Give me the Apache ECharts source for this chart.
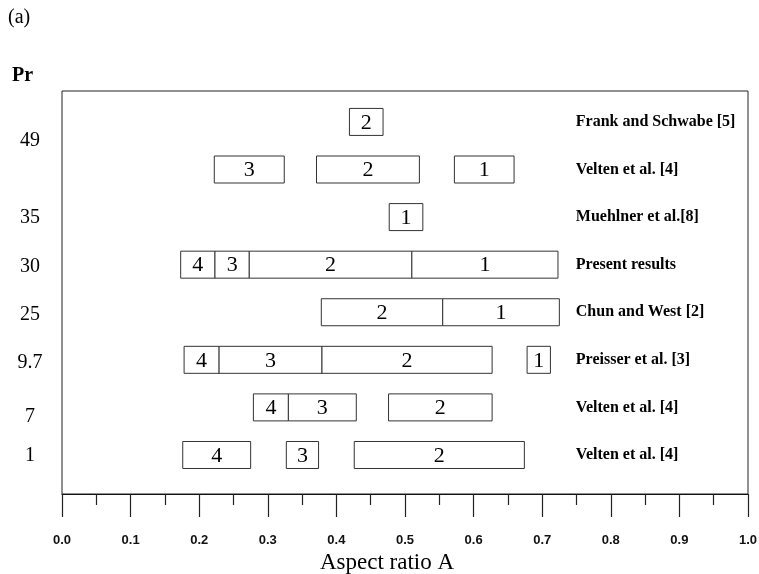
<!DOCTYPE html>
<html>
<head>
<meta charset="utf-8">
<script src="https://cdn.jsdelivr.net/npm/echarts@6/dist/echarts.min.js"></script>
<style>html,body{margin:0;padding:0;background:#fff;}#c{width:759px;height:574px;}</style>
</head>
<body>
<div id="c"></div>
<script>
// Rows from bottom (1) to top (8)
const studyNames = ["Velten et al. [4]", "Velten et al. [4]", "Preisser et al. [3]", "Chun and West [2]",
  "Present results", "Muehlner et al.[8]", "Velten et al. [4]", "Frank and Schwabe [5]"];
const studyRows = [1, 2, 3, 4, 5, 6, 7, 8];

// Pr labels and the row each sits against
const prLabels = ["49", "35", "30", "25", "9.7", "7", "1"];
const prRows = [7.62, 6, 4.98, 3.97, 2.97, 1.82, 1.0];

// Regime boxes: row, start aspect ratio, end aspect ratio, regime number
const segRow   = [8,     7,     7,     7,     6,     5,     5,     5,     5,     4,     4,     3,     3,     3,     3,     2,     2,     2,     1,     1,     1];
const segStart = [0.419, 0.222, 0.371, 0.572, 0.477, 0.173, 0.223, 0.273, 0.510, 0.378, 0.555, 0.178, 0.229, 0.379, 0.678, 0.279, 0.330, 0.476, 0.176, 0.327, 0.426];
const segEnd   = [0.468, 0.324, 0.521, 0.659, 0.526, 0.223, 0.273, 0.510, 0.723, 0.555, 0.725, 0.229, 0.379, 0.627, 0.712, 0.330, 0.429, 0.627, 0.275, 0.374, 0.674];
const segLabel = ["2",   "3",   "2",   "1",   "1",   "4",   "3",   "2",   "1",   "2",   "1",   "4",   "3",   "2",   "1",   "4",   "3",   "2",   "4",   "3",   "2"];

const xTicks = ["0.0","0.1","0.2","0.3","0.4","0.5","0.6","0.7","0.8","0.9","1.0"];

const chart = echarts.init(document.getElementById('c'), null, {renderer: 'canvas'});

const boxData = segRow.map((r, i) => [segStart[i], segEnd[i], r]);
const nameData = studyRows.map(r => [0.749, r]);
const prData = prRows.map(r => [0, r]);

const option = {
  animation: false,
  backgroundColor: '#fff',
  grid: {left: 62, right: 11, top: 91, bottom: 80, show: true, borderColor: '#222', borderWidth: 1,
    backgroundColor: 'transparent', outerBoundsMode: 'none', containLabel: false},
  graphic: [
    {type: 'text', left: 8, top: 8, style: {text: '(a)', font: '20px "Liberation Serif"', fill: '#000'}},
    {type: 'text', left: 12, top: 66, style: {text: 'Pr', font: 'bold 20px "Liberation Serif"', fill: '#000'}}
  ],
  xAxis: {
    type: 'value', min: 0, max: 1, interval: 0.1,
    axisLine: {show: true, lineStyle: {color: '#111', width: 1.2}},
    axisTick: {show: true, inside: false, length: 23, lineStyle: {color: '#222', width: 1.2}},
    minorTick: {show: true, splitNumber: 2, length: 11, lineStyle: {color: '#222', width: 1.2}},
    splitLine: {show: false}, minorSplitLine: {show: false},
    axisLabel: {margin: 40, fontFamily: '"Liberation Sans"', fontSize: 13, fontWeight: 'bold', color: '#111',
      formatter: v => xTicks[Math.round(v * 10)]},
    name: 'Aspect ratio A', nameLocation: 'middle', nameGap: 53,
    nameTextStyle: {fontFamily: '"Liberation Serif"', fontSize: 23, color: '#000', padding: [0, 36, 0, 0]}
  },
  yAxis: {
    type: 'value', min: 0.18, max: 8.65,
    axisLine: {show: false}, axisTick: {show: false}, axisLabel: {show: false}, splitLine: {show: false}
  },
  series: [
    {
      type: 'custom', data: boxData, encode: {x: [0, 1], y: 2}, clip: false,
      renderItem: (params, api) => {
        const s = api.coord([api.value(0), api.value(2)]);
        const e = api.coord([api.value(1), api.value(2)]);
        const h = 27;
        return {type: 'group', children: [
          {type: 'rect', shape: {x: s[0], y: s[1] - h / 2, width: e[0] - s[0], height: h},
            style: {fill: '#fff', stroke: '#333', lineWidth: 1}},
          {type: 'text', style: {text: segLabel[params.dataIndex], x: (s[0] + e[0]) / 2, y: s[1] + 1,
            align: 'center', verticalAlign: 'middle', font: '22px "Liberation Serif"', fill: '#000'}}
        ]};
      }
    },
    {
      type: 'custom', data: nameData, encode: {x: 0, y: 1}, clip: false,
      renderItem: (params, api) => {
        const p = api.coord([api.value(0), api.value(1)]);
        return {type: 'text', style: {text: studyNames[params.dataIndex], x: p[0], y: p[1],
          align: 'left', verticalAlign: 'middle', font: 'bold 16px "Liberation Serif"', fill: '#000'}};
      }
    },
    {
      type: 'custom', data: prData, encode: {x: 0, y: 1}, clip: false,
      renderItem: (params, api) => {
        const p = api.coord([api.value(0), api.value(1)]);
        return {type: 'text', style: {text: prLabels[params.dataIndex], x: p[0] - 32, y: p[1] + 1,
          align: 'center', verticalAlign: 'middle', font: '20px "Liberation Serif"', fill: '#000'}};
      }
    }
  ]
};
chart.setOption(option);
</script>
</body>
</html>
